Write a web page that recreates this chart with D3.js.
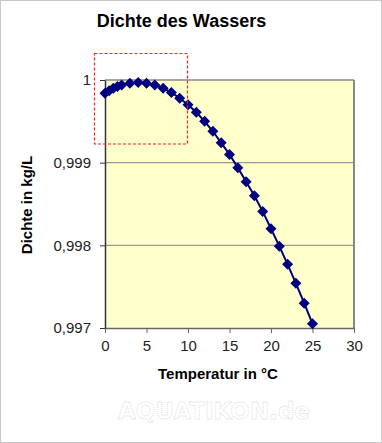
<!DOCTYPE html>
<html><head><meta charset="utf-8">
<script src="https://cdn.jsdelivr.net/npm/d3@7"></script>
<style>body{margin:0;background:#fff}svg{display:block}</style>
</head><body>
<script>
const temperatures = [0,0.5,1,1.5,2,3,4,5,6,7,8,9,10,11,12,13,14,15,16,17,18,19,20,21,22,23,24,25];
const densities = [0.99984,0.99987,0.99990,0.99992,0.99994,0.99996,0.99997,0.99996,0.99994,0.99990,0.99985,0.99978,0.99970,0.99961,0.99950,0.99938,0.99924,0.99910,0.99894,0.99877,0.99860,0.99841,0.99820,0.99799,0.99777,0.99754,0.99730,0.99705];
const xTicks = [0,5,10,15,20,25,30];
const yTicks = [0.997,0.998,0.999,1];
const yTickLabels = ["0,997","0,998","0,999","1"];
const title = "Dichte des Wassers";
const xTitle = "Temperatur in °C";
const yTitle = "Dichte in kg/L";
const watermark = "AQUATIKON.de";

const W = 382, H = 443;
const svg = d3.select("body").append("svg").attr("width", W).attr("height", H);
svg.append("rect").attr("x",0.5).attr("y",0.5).attr("width",W-1).attr("height",H-1)
  .attr("fill","#fff").attr("stroke","#c8c8c8");

const x = d3.scaleLinear().domain([0,30]).range([105,354]);
const y = d3.scaleLinear().domain([0.997,1]).range([328,80]);

// plot area
svg.append("rect").attr("x",x(0)).attr("y",y(1)).attr("width",x(30)-x(0)).attr("height",y(0.997)-y(1))
  .attr("fill","#FFFFCC");
// gridlines
svg.append("g").selectAll("line").data(yTicks.filter(d=>d>0.997 && d<1)).join("line")
  .attr("x1",x(0)).attr("x2",x(30)).attr("y1",d=>y(d)).attr("y2",d=>y(d))
  .attr("stroke","#999").attr("stroke-width",1.2);
// top and right borders
svg.append("line").attr("x1",x(0)).attr("x2",x(30)).attr("y1",y(1)).attr("y2",y(1)).attr("stroke","#888").attr("stroke-width",1.5);
svg.append("line").attr("x1",x(30)).attr("x2",x(30)).attr("y1",y(1)).attr("y2",y(0.997)).attr("stroke","#888").attr("stroke-width",2);

// axes
const fontT = "'Liberation Sans', Arial, sans-serif";
const xAxis = d3.axisBottom(x).tickValues(xTicks).tickSize(5).tickSizeOuter(0).tickPadding(4);
const gx = svg.append("g").attr("transform",`translate(0,${y(0.997)})`).call(xAxis);
gx.select(".domain").attr("stroke","#666").attr("stroke-width",1.5);
gx.selectAll(".tick line").attr("stroke","#666");
gx.selectAll(".tick text").attr("font-family",fontT).attr("font-size",15).attr("fill","#222")
  .attr("dy",null).attr("y",23);

const yAxis = d3.axisLeft(y).tickValues(yTicks).tickFormat((d,i)=>yTickLabels[i]).tickSize(5).tickSizeOuter(0).tickPadding(9);
const gy = svg.append("g").attr("transform",`translate(${x(0)},0)`).call(yAxis);
gy.select(".domain").attr("stroke","#333").attr("stroke-width",1.5);
gy.selectAll(".tick line").attr("stroke","#333");
gy.selectAll(".tick text").attr("font-family",fontT).attr("font-size",15).attr("fill","#222");

// line + markers
const pts = temperatures.map((t,i)=>({t, v: densities[i]}));
svg.append("path").datum(pts)
  .attr("d", d3.line().x(d=>x(d.t)).y(d=>y(d.v)))
  .attr("fill","none").attr("stroke","#000080").attr("stroke-width",2);
svg.append("g").selectAll("path").data(pts).join("path")
  .attr("d","M0,-5.5L5.5,0L0,5.5L-5.5,0Z")
  .attr("transform",d=>`translate(${x(d.t)},${y(d.v)})`)
  .attr("fill","#000080");

// red dashed rectangle
svg.append("rect").attr("x",94.5).attr("y",53.5).attr("width",93).attr("height",90.5)
  .attr("fill","none").attr("stroke","#ff2020").attr("stroke-width",1.2).attr("stroke-dasharray","3,2");

// titles
svg.append("text").attr("x",181.5).attr("y",27).attr("text-anchor","middle")
  .attr("font-family",fontT).attr("font-weight","bold").attr("font-size",18).attr("fill","#000").text(title);
svg.append("text").attr("x",218).attr("y",379).attr("text-anchor","middle")
  .attr("font-family",fontT).attr("font-weight","bold").attr("font-size",15).attr("fill","#000").text(xTitle);
svg.append("text").attr("transform","translate(31.5,205) rotate(-90)").attr("text-anchor","middle")
  .attr("font-family",fontT).attr("font-weight","bold").attr("font-size",15).attr("fill","#000").text(yTitle);

// watermark
svg.append("text").attr("x",214).attr("y",419).attr("text-anchor","middle")
  .attr("font-family","'DejaVu Sans', sans-serif").attr("font-weight","bold").attr("font-size",23)
  .attr("fill","#fff").attr("stroke","#d8d8d8").attr("stroke-width",0.8).attr("stroke-dasharray","1,1")
  .text(watermark);
</script>
</body></html>
